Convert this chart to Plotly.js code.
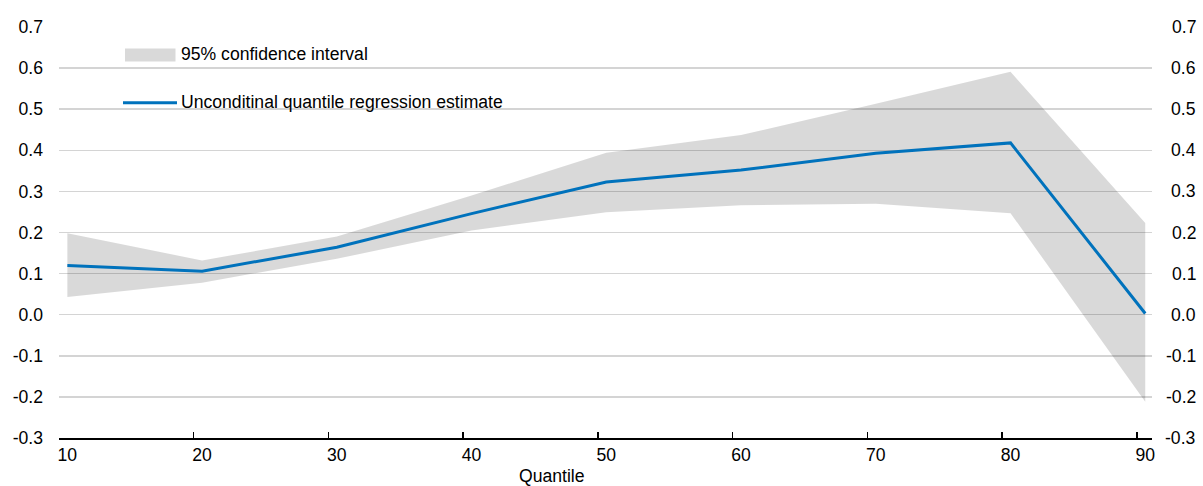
<!DOCTYPE html>
<html>
<head>
<meta charset="utf-8">
<script src="https://cdn.plot.ly/plotly-3.0.1.min.js"></script>
<style>
html,body{margin:0;padding:0;background:#fff;}
#chart{width:1203px;height:486px;}
</style>
</head>
<body>
<div id="chart"></div>
<script>
// Data
const quantiles = [10, 20, 30, 40, 50, 60, 70, 80, 90];
const estimate  = [0.120, 0.106, 0.164, 0.246, 0.323, 0.352, 0.393, 0.418, 0.003];
const ciUpper   = [0.198, 0.132, 0.190, 0.290, 0.394, 0.437, 0.513, 0.591, 0.223];
const ciLower   = [0.043, 0.078, 0.136, 0.205, 0.249, 0.266, 0.270, 0.247, -0.212];
const yTicks    = [-0.3, -0.2, -0.1, 0.0, 0.1, 0.2, 0.3, 0.4, 0.5, 0.6, 0.7];
const xTickLabels = ['10', '20', '30', '40', '50', '60', '70', '80', '90'];
const seriesNames = ['95% confidence interval', 'Unconditinal quantile regression estimate'];
const xTitle = 'Quantile';

const FONT = "'Liberation Sans Narrow', 'Arial Narrow', 'Liberation Sans', Arial, sans-serif";
const FS = 17.6;
const BAND = 'rgba(0,0,0,0.15)';
const BLUE = '#0072BC';
const tickShift = 0.62;
const xRange = [quantiles[0] - tickShift, 90.5];

const traces = [
  {x: quantiles, y: ciLower, type: 'scatter', mode: 'lines', line: {width: 0, color: BAND}, hoverinfo: 'skip', showlegend: false},
  {x: quantiles, y: ciUpper, type: 'scatter', mode: 'lines', fill: 'tonexty', fillcolor: BAND, line: {width: 0, color: BAND}, name: seriesNames[0], showlegend: false},
  {x: quantiles, y: estimate, xaxis: 'x2', type: 'scatter', mode: 'lines', line: {color: BLUE, width: 3}, name: seriesNames[1], showlegend: false}
];

// plot area geometry for paper-coordinate legend items
const L = 59, R = 51, T = 27, B = 48, W = 1203, H = 486;
const pw = W - L - R, ph = H - T - B;
const px = v => (v - L) / pw;
const py = v => 1 - (v - T) / ph;
const txtFont = {family: FONT, size: FS, color: '#000'};

const annotations = [
  {xref: 'paper', yref: 'paper', x: px(179), y: py(54.5), xanchor: 'left', yanchor: 'middle', text: seriesNames[0], showarrow: false, font: txtFont},
  {xref: 'paper', yref: 'paper', x: px(179), y: py(102.5), xanchor: 'left', yanchor: 'middle', text: seriesNames[1], showarrow: false, font: txtFont},
  {xref: 'paper', yref: 'paper', x: px(551.5), y: py(476), xanchor: 'center', yanchor: 'middle', text: xTitle, showarrow: false, font: txtFont}
];
yTicks.forEach(v => {
  annotations.push({xref: 'paper', yref: 'y', x: px(1198), y: v, xanchor: 'right', yanchor: 'middle', text: v.toFixed(1), showarrow: false, font: txtFont});
});

const shapes = [
  {type: 'rect', xref: 'paper', yref: 'paper', x0: px(125), x1: px(175.5), y0: py(61.5), y1: py(48.5), fillcolor: '#d9d9d9', line: {width: 0}},
  {type: 'line', xref: 'paper', yref: 'paper', x0: px(123), x1: px(177), y0: py(102.7), y1: py(102.7), line: {color: BLUE, width: 3}}
];

const layout = {
  width: W, height: H,
  margin: {l: L, r: R, t: T, b: B, pad: 0},
  paper_bgcolor: '#fff', plot_bgcolor: '#fff',
  showlegend: false,
  font: txtFont,
  xaxis: {
    range: xRange,
    tickvals: quantiles,
    ticktext: xTickLabels,
    ticks: '', 
    showline: true, linecolor: '#000', linewidth: 2,
    showgrid: false, zeroline: false,
    tickfont: txtFont,
    fixedrange: true
  },
  xaxis2: {
    overlaying: 'x', anchor: 'y', side: 'bottom',
    range: xRange,
    tickvals: quantiles.map(q => q - tickShift),
    showticklabels: false,
    ticks: 'inside', ticklen: 6, tickwidth: 1.5, tickcolor: '#000',
    showline: false, showgrid: false, zeroline: false,
    fixedrange: true
  },
  yaxis: {
    range: [-0.3, 0.7],
    tickvals: yTicks,
    ticktext: yTicks.map(v => v.toFixed(1)),
    ticks: '', ticklabelstandoff: 15,
    showgrid: true, gridcolor: '#d4d4d4', gridwidth: 1.5,
    zeroline: false, showline: false,
    tickfont: txtFont,
    fixedrange: true
  },
  annotations: annotations,
  shapes: shapes
};

Plotly.newPlot('chart', traces, layout, {staticPlot: true, displayModeBar: false});
</script>
</body>
</html>
